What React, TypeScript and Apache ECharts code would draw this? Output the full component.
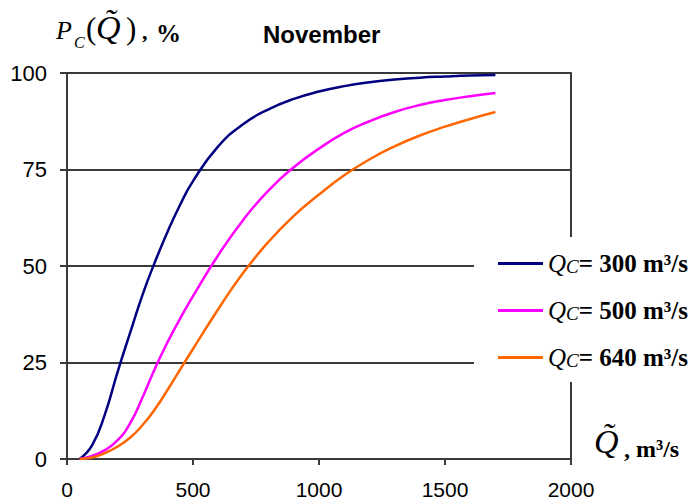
import React, { useEffect, useRef } from "react";
import * as echarts from "echarts";

const flowQ = [50, 100, 150, 200, 250, 300, 350, 400, 450, 500, 600, 700, 800, 900, 1000, 1100, 1200, 1300, 1400, 1500, 1600, 1700];
const pc300 = [0, 3.6, 11.5, 22.4, 32.6, 42.6, 51.2, 59, 66, 72, 81, 86.8, 90.6, 93.3, 95.2, 96.6, 97.6, 98.3, 98.8, 99.1, 99.35, 99.5];
const pc500 = [0, 0.8, 2.3, 4.8, 9.2, 16, 23.6, 30.4, 36.5, 42.2, 52.8, 62, 69.6, 75.6, 80.4, 84.5, 87.5, 89.9, 91.7, 93, 94, 94.8];
const pc640 = [0, 0.4, 1.5, 3.2, 5.5, 8.8, 13, 18, 23.3, 28.5, 38.8, 48.3, 56.3, 63, 68.5, 73.5, 77.6, 81, 83.8, 86.1, 88.1, 89.9];

const criticalFlows = [300, 500, 640];
const seriesValues = [pc300, pc500, pc640];
const seriesColors = ["#000080", "#ff00ff", "#ff6600"];

const xTicks = { min: 0, max: 2000, interval: 500 };
const yTicks = { min: 0, max: 100, interval: 25 };

const titleText = "November";

const SERIF = '"Liberation Serif", "Times New Roman", serif';
const SANS = '"Liberation Sans", Arial, sans-serif';
const AXIS = "#3a3a3a";

export default function App() {
  const ref = useRef<HTMLDivElement>(null);

  useEffect(() => {
    if (!ref.current) return;
    const chart = echarts.init(ref.current, undefined, { renderer: "svg" });
    const names = criticalFlows.map((q) => `QC= ${q} m³/s`);

    const option: any = {
      animation: false,
      backgroundColor: "#fff",
      title: {
        text: titleText,
        left: 263,
        top: 22,
        padding: 0,
        textStyle: { fontFamily: SANS, fontWeight: "bold", fontSize: 24, color: "#000" },
      },
      grid: { left: 67, right: 123, top: 73, bottom: 42, containLabel: false },
      legend: {
        orient: "vertical",
        left: 474,
        top: 237,
        padding: [14, 8, 12, 24],
        backgroundColor: "#fff",
        itemWidth: 45,
        itemHeight: 3,
        itemGap: 22,
        icon: "rect",
        data: names,
        formatter: (name: string) => {
          const i = names.indexOf(name);
          return `{q|Q}{c|C}{b|= ${criticalFlows[i]} m³/s}`;
        },
        textStyle: {
          rich: {
            q: { fontFamily: SERIF, fontStyle: "italic", fontSize: 25, lineHeight: 30, color: "#000" },
            c: { fontFamily: SERIF, fontStyle: "italic", fontSize: 19, lineHeight: 30, color: "#000", padding: [6, 0, 0, 0] },
            b: { fontFamily: SERIF, fontWeight: "bold", fontSize: 25, lineHeight: 30, color: "#000" },
          },
        },
      },
      xAxis: {
        type: "value",
        min: xTicks.min,
        max: xTicks.max,
        interval: xTicks.interval,
        axisLine: { show: true, lineStyle: { color: AXIS, width: 2 } },
        axisTick: { show: true, length: 6, lineStyle: { color: AXIS, width: 2 } },
        axisLabel: {
          fontFamily: SANS,
          fontSize: 21,
          color: "#000",
          margin: 20,
          formatter: (v: number) => String(v),
        },
        splitLine: { show: false },
      },
      yAxis: [
        {
          type: "value",
          min: yTicks.min,
          max: yTicks.max,
          interval: yTicks.interval,
          axisLine: { show: true, lineStyle: { color: AXIS, width: 2 } },
          axisTick: { show: true, length: 7, lineStyle: { color: AXIS, width: 2 } },
          axisLabel: { fontFamily: SANS, fontSize: 22, color: "#000", margin: 20 },
          splitLine: { show: true, lineStyle: { color: AXIS, width: 2 } },
        },
        {
          type: "value",
          position: "right",
          min: yTicks.min,
          max: yTicks.max,
          interval: yTicks.interval,
          axisLine: { show: true, lineStyle: { color: AXIS, width: 2 } },
          axisTick: { show: false },
          axisLabel: { show: false },
          splitLine: { show: false },
        },
      ],
      series: seriesValues.map((vals, i) => ({
        name: names[i],
        type: "line",
        smooth: 0.5,
        showSymbol: false,
        color: seriesColors[i],
        lineStyle: { width: 2.5, color: seriesColors[i] },
        data: flowQ.map((q, j) => [q, vals[j]]),
      })),
      graphic: [
        // y-axis title: P_C(Q̃), %
        { type: "text", left: 56, top: 17, style: { text: "P", font: `italic 26px ${SERIF}`, fill: "#000" } },
        { type: "text", left: 74, top: 34, style: { text: "C", font: `italic 16px ${SERIF}`, fill: "#000" } },
        { type: "text", left: 86, top: 13, style: { text: "(", font: `31px ${SERIF}`, fill: "#000" } },
        { type: "text", left: 96, top: 10, style: { text: "Q\u0303", font: `italic 34px ${SERIF}`, fill: "#000" } },
        { type: "text", left: 126, top: 13, style: { text: ")", font: `31px ${SERIF}`, fill: "#000" } },
        { type: "text", left: 142, top: 20, style: { text: ",", font: `bold 22px ${SERIF}`, fill: "#000" } },
        { type: "text", left: 156, top: 21, style: { text: "%", font: `bold 25px ${SERIF}`, fill: "#000" } },
        // x-axis title: Q̃ , m³/s
        { type: "text", left: 594, top: 424, style: { text: "Q\u0303", font: `italic 34px ${SERIF}`, fill: "#000" } },
        { type: "text", left: 624, top: 437, style: { text: ", m³/s", font: `bold 24px ${SERIF}`, fill: "#000" } },
      ],
    };

    chart.setOption(option);
    return () => chart.dispose();
  }, []);

  return (
    <div
      ref={ref}
      style={{ position: "fixed", left: 0, top: 0, width: 694, height: 501 }}
    />
  );
}
